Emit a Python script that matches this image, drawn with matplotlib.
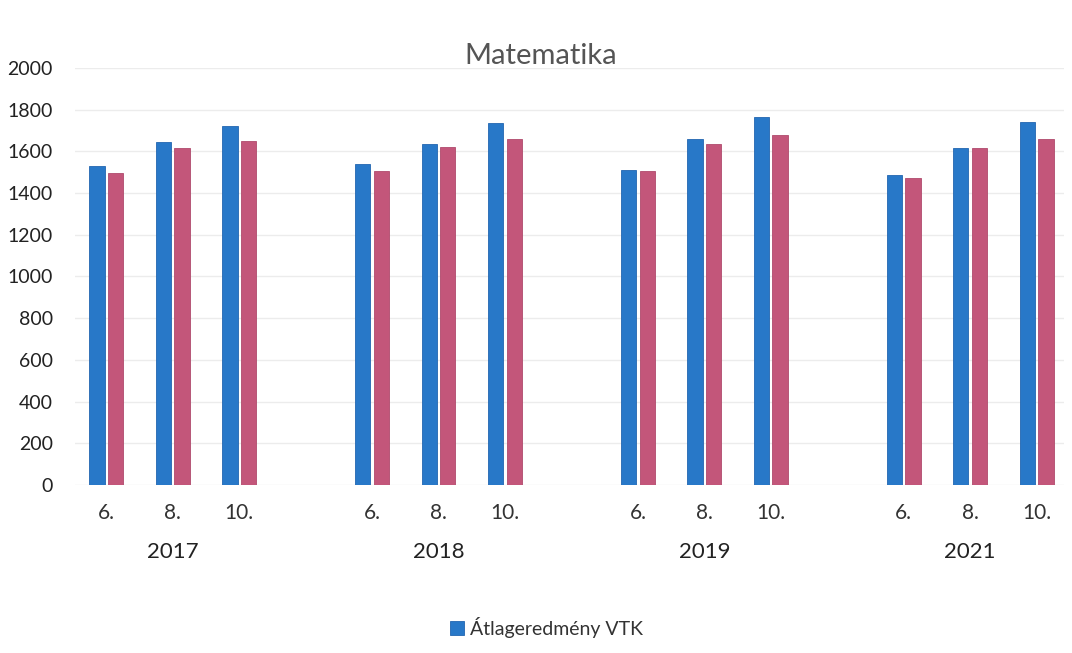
import matplotlib
matplotlib.use("Agg")
import matplotlib.pyplot as plt
import numpy as np

years = ["2017", "2018", "2019", "2021"]
grades = ["6.", "8.", "10."]
vtk_values = [1530, 1645, 1720,
              1540, 1635, 1735,
              1510, 1660, 1765,
              1485, 1615, 1740]
other_values = [1495, 1615, 1652,
                1508, 1622, 1660,
                1505, 1635, 1678,
                1470, 1615, 1660]
legend_label = "Átlageredmény VTK"
title = "Matematika"

plt.rcParams['font.family'] = ['Lato', 'DejaVu Sans']

fig = plt.figure(figsize=(10.72, 6.53), dpi=100)
ax = fig.add_axes([0.07, 0.2573, 0.923, 0.6386])

pos = []
for g in range(len(years)):
    for c in range(len(grades)):
        pos.append(g * 4 + c)
pos = np.array(pos, dtype=float)

w = 0.23
blue = "#2878c8"
pink = "#c3567a"
ax.bar(pos - 0.14, vtk_values, width=w, color=blue, edgecolor="#2266b0",
       linewidth=0.6, label=legend_label, zorder=3)
ax.bar(pos + 0.14, other_values, width=w, color=pink, edgecolor="#b04a6c",
       linewidth=0.6, label="_nolegend_", zorder=3)

ax.set_ylim(0, 2000)
ax.set_yticks(np.arange(0, 2001, 200))
ax.set_xlim(-0.47, 14.42)
ax.set_xticks(pos)
ax.set_xticklabels(grades * len(years))
ax.tick_params(axis='x', length=0, labelsize=15, pad=13, colors="#333333")
ax.tick_params(axis='y', length=0, labelsize=14, pad=16, colors="#222222")
for lab in ax.get_yticklabels():
    lab.set_horizontalalignment('right')

ax.grid(axis='y', color="#ececec", linewidth=1.0, zorder=0)
for s in ax.spines.values():
    s.set_visible(False)

trans = matplotlib.transforms.blended_transform_factory(ax.transData, fig.transFigure)
for g, yr in enumerate(years):
    ax.text(g * 4 + 1, 1 - 552 / 653, yr, transform=trans, ha='center',
            va='center', fontsize=16, color="#222222")

fig.text(0.504, 1 - 56 / 653, title, ha='center', va='center', fontsize=21,
         color="#555555")

leg = fig.legend(loc='center', bbox_to_anchor=(0.51, 1 - 627 / 653),
                 frameon=False, fontsize=14, handlelength=0.7, handleheight=0.7,
                 handletextpad=0.3)
for t in leg.get_texts():
    t.set_color("#333333")

fig.savefig("out.png", dpi=100, facecolor="white")
